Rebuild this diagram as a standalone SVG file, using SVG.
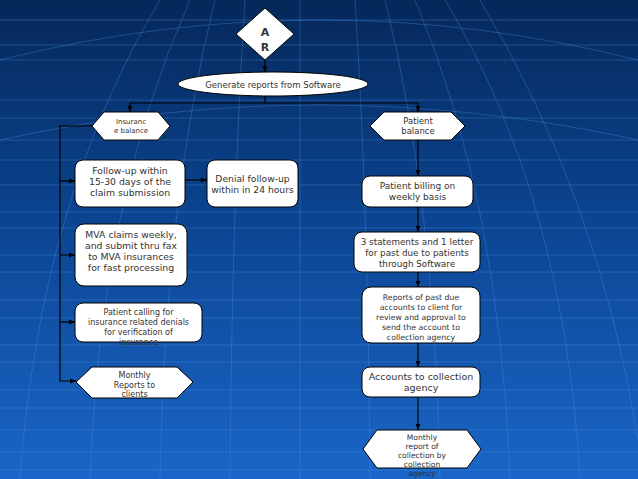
<svg xmlns="http://www.w3.org/2000/svg" width="638" height="479" viewBox="0 0 638 479">
<defs>
<linearGradient id="bg" x1="0" y1="0" x2="0" y2="1">
<stop offset="0" stop-color="#06285a"/>
<stop offset="0.45" stop-color="#0b4490"/>
<stop offset="1" stop-color="#1a66c8"/>
</linearGradient>
<marker id="ah" viewBox="0 0 10 10" refX="10" refY="5" markerWidth="6" markerHeight="6" orient="auto" markerUnits="userSpaceOnUse">
<path d="M0,1 L10,5 L0,9 z" fill="#000"/>
</marker>
<clipPath id="clipCall"><rect x="75" y="303" width="127" height="42"/></clipPath>
</defs>
<style>
.box{fill:#fff;stroke:#000;stroke-width:1}
.t{font-family:"DejaVu Sans",Verdana,sans-serif;fill:#333;text-anchor:middle}
.c{fill:none;stroke:#000;stroke-width:1.2}
.g{fill:none;stroke:#4a8fe0;stroke-opacity:0.35;stroke-width:1}
</style>
<rect width="638" height="479" fill="url(#bg)"/>
<g id="grid">
<path class="g" d="M0,20 H638 M0,45 H638 M0,60 H638 M0,100 H638 M0,118 H638 M0,140 H638 M0,160 H638 M0,185 H638 M0,212 H638 M0,228 H638 M0,255 H638 M0,272 H638 M0,300 H638 M0,318 H638 M0,345 H638 M0,362 H638 M0,390 H638 M0,408 H638 M0,430 H638 M0,452 H638 M0,470 H638"/>
<path class="g" d="M20,479 Q40,200 160,0 M90,479 Q100,200 190,0 M160,479 Q165,200 215,0 M230,479 Q232,200 245,0 M300,479 V0 M370,479 Q368,200 355,0 M440,479 Q435,200 385,0 M510,479 Q500,200 415,0 M580,479 Q565,200 445,0 M638,440 Q600,200 480,0"/>
<path class="g" d="M0,60 Q319,-20 638,60 M0,140 Q319,70 638,140" stroke-opacity="0.25"/>
</g>
<g id="connectors">
<line class="c" x1="265" y1="60" x2="265" y2="72" marker-end="url(#ah)"/>
<line class="c" x1="265" y1="96" x2="265" y2="103"/>
<polyline class="c" points="130,103 418,103 418,112" marker-end="url(#ah)"/>
<line class="c" x1="130" y1="103" x2="130" y2="112" marker-end="url(#ah)"/>
<polyline class="c" points="92,126 60,126 60,381 76,381" marker-end="url(#ah)"/>
<line class="c" x1="60" y1="181" x2="75" y2="181" marker-end="url(#ah)"/>
<line class="c" x1="60" y1="255" x2="75" y2="255" marker-end="url(#ah)"/>
<line class="c" x1="60" y1="322" x2="75" y2="322" marker-end="url(#ah)"/>
<line class="c" x1="185" y1="180" x2="207" y2="180" marker-end="url(#ah)"/>
<line class="c" x1="418" y1="140" x2="418" y2="176" marker-end="url(#ah)"/>
<line class="c" x1="418" y1="207" x2="418" y2="232" marker-end="url(#ah)"/>
<line class="c" x1="418" y1="272" x2="418" y2="287" marker-end="url(#ah)"/>
<line class="c" x1="418" y1="343" x2="418" y2="367" marker-end="url(#ah)"/>
<line class="c" x1="418" y1="397" x2="418" y2="430" marker-end="url(#ah)"/>
</g>
<g id="ar">
<polygon class="box" points="265,8 294,34 265,60 236,34"/>
<text class="t" x="265" y="36" font-size="11" font-weight="bold" fill="#222">A</text>
<text class="t" x="265" y="51" font-size="11" font-weight="bold" fill="#222">R</text>
</g>
<g id="generate">
<ellipse class="box" cx="273" cy="84" rx="95" ry="12"/>
<text class="t" x="273" y="87.5" font-size="8.5">Generate reports from Software</text>
</g>
<g id="insurance">
<polygon class="box" points="92,126 104,112 158,112 170,126 158,140 104,140"/>
<text class="t" x="131" y="124" font-size="7">Insuranc</text>
<text class="t" x="131" y="133" font-size="7">e balance</text>
</g>
<g id="patientbal">
<polygon class="box" points="370,126 384,112 451,112 465,126 451,140 384,140"/>
<text class="t" x="418" y="124" font-size="8.5">Patient</text>
<text class="t" x="418" y="134" font-size="8.5">balance</text>
</g>
<g id="followup">
<rect class="box" x="75" y="160" width="110" height="47" rx="8"/>
<text class="t" x="130" y="174" font-size="9.3">Follow-up within</text>
<text class="t" x="130" y="185" font-size="9.3">15-30 days of the</text>
<text class="t" x="130" y="196" font-size="9.3">claim submission</text>
</g>
<g id="denial">
<rect class="box" x="207" y="160" width="91" height="47" rx="8"/>
<text class="t" x="252.5" y="182" font-size="9.2">Denial follow-up</text>
<text class="t" x="252.5" y="193" font-size="9.2">within in 24 hours</text>
</g>
<g id="mva">
<rect class="box" x="75" y="224" width="112" height="62" rx="9"/>
<text class="t" x="131" y="238" font-size="9.3">MVA claims weekly,</text>
<text class="t" x="131" y="249" font-size="9.3">and submit thru fax</text>
<text class="t" x="131" y="260" font-size="9.3">to MVA insurances</text>
<text class="t" x="131" y="271" font-size="9.3">for fast processing</text>
</g>
<g id="calling">
<rect class="box" x="75" y="303" width="127" height="39" rx="8"/>
<g clip-path="url(#clipCall)">
<text class="t" x="138.5" y="315" font-size="8">Patient calling for</text>
<text class="t" x="138.5" y="325" font-size="8">insurance related denials</text>
<text class="t" x="138.5" y="335" font-size="8">for verification of</text>
<text class="t" x="138.5" y="345" font-size="8">insurance</text>
</g>
</g>
<g id="monthly">
<polygon class="box" points="76,382 92,367 177,367 193,382 177,398 92,398"/>
<text class="t" x="134.5" y="378" font-size="8">Monthly</text>
<text class="t" x="134.5" y="388" font-size="8">Reports to</text>
<text class="t" x="134.5" y="397" font-size="8">clients</text>
</g>
<g id="billing">
<rect class="box" x="362" y="176" width="111" height="31" rx="8"/>
<text class="t" x="417.5" y="189" font-size="9">Patient billing on</text>
<text class="t" x="417.5" y="200" font-size="9">weekly basis</text>
</g>
<g id="statements">
<rect class="box" x="354" y="232" width="126" height="40" rx="8"/>
<text class="t" x="417" y="245" font-size="8.8">3 statements and 1 letter</text>
<text class="t" x="417" y="256" font-size="8.8">for past due to patients</text>
<text class="t" x="417" y="267" font-size="8.8">through Software</text>
</g>
<g id="reports">
<rect class="box" x="362" y="287" width="118" height="56" rx="9"/>
<text class="t" x="421" y="300" font-size="7.8">Reports of past due</text>
<text class="t" x="421" y="310" font-size="7.8">accounts to client for</text>
<text class="t" x="421" y="320" font-size="7.8">review and approval to</text>
<text class="t" x="421" y="330" font-size="7.8">send the account to</text>
<text class="t" x="421" y="340" font-size="7.8">collection agency</text>
</g>
<g id="accounts">
<rect class="box" x="362" y="367" width="118" height="30" rx="8"/>
<text class="t" x="421" y="380" font-size="9.5">Accounts to collection</text>
<text class="t" x="421" y="391" font-size="9.5">agency</text>
</g>
<g id="collection">
<polygon class="box" points="363,449 377,430 467,430 481,449 467,468 377,468"/>
<text class="t" x="422" y="440" font-size="7.6">Monthly</text>
<text class="t" x="422" y="449" font-size="7.6">report of</text>
<text class="t" x="422" y="458" font-size="7.6">collection by</text>
<text class="t" x="422" y="467" font-size="7.6">collection</text>
<text class="t" x="422" y="476" font-size="7.6">agency</text>
</g>
</svg>
